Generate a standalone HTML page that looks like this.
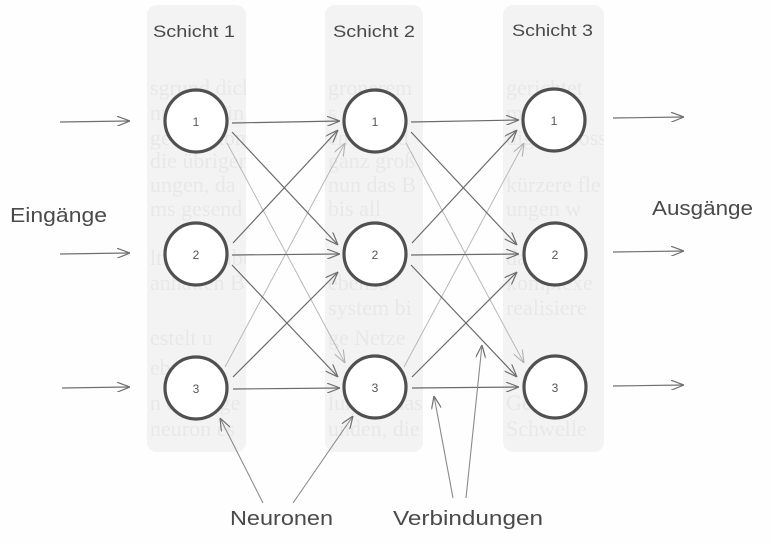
<!DOCTYPE html>
<html><head><meta charset="utf-8"><style>
html,body{margin:0;padding:0;background:#fff;}
svg{display:block;}
</style></head><body>
<svg width="771" height="544" viewBox="0 0 771 544" xmlns="http://www.w3.org/2000/svg">
<defs>
<marker id="ah" viewBox="0 0 13 10" refX="13" refY="5" markerWidth="13" markerHeight="10" markerUnits="userSpaceOnUse" orient="auto">
<path d="M0,0 L13,5 L0,10" fill="none" stroke="#707070" stroke-width="1.2"/>
</marker>
<marker id="ahf" viewBox="0 0 13 10" refX="13" refY="5" markerWidth="13" markerHeight="10" markerUnits="userSpaceOnUse" orient="auto">
<path d="M0,0 L13,5 L0,10" fill="none" stroke="#b0b0b0" stroke-width="1.1"/>
</marker>
<clipPath id="c1"><rect x="147" y="5" width="99" height="447" rx="10"/></clipPath>
<clipPath id="c2"><rect x="325" y="5" width="98" height="447" rx="10"/></clipPath>
<clipPath id="c3"><rect x="503" y="5" width="101" height="447" rx="10"/></clipPath>
</defs>
<rect width="771" height="544" fill="#fefefe"/>
<!-- columns -->
<rect x="147" y="5" width="99" height="447" rx="10" fill="#f3f3f3"/>
<rect x="325" y="5" width="98" height="447" rx="10" fill="#f3f3f3"/>
<rect x="503" y="5" width="101" height="447" rx="10" fill="#f3f3f3"/>
<g font-family="Liberation Serif, serif" font-size="22" fill="#e8e8e8">
<g clip-path="url(#c1)">
<text x="150" y="95">sgrund dicht</text><text x="150" y="120">nur die ein</text><text x="150" y="145">gebnis kom</text><text x="150" y="168">die übrigen</text><text x="150" y="192">ungen, da</text><text x="150" y="216">ms gesend</text><text x="150" y="265">ltung. Dabei</text><text x="150" y="290">anhatten Be</text><text x="150" y="345">estelt u</text><text x="150" y="375">ebnisse</text><text x="150" y="410">n der Eige</text><text x="150" y="436">neuron es</text>
</g>
<g clip-path="url(#c2)">
<text x="328" y="95">gronerem</text><text x="328" y="120">s nur mit</text><text x="328" y="145">en dass d</text><text x="328" y="168">ganz groß</text><text x="328" y="192">nun das B</text><text x="328" y="216">bis all</text><text x="328" y="290">ebenso</text><text x="328" y="315">system bi</text><text x="328" y="345">ge Netze</text><text x="328" y="410">lungen das</text><text x="328" y="436">unden, die</text>
</g>
<g clip-path="url(#c3)">
<text x="506" y="95">gerichtet</text><text x="506" y="120">mit den</text><text x="506" y="145">digen gross</text><text x="506" y="192">kürzere fle</text><text x="506" y="216">ungen w</text><text x="506" y="265">dasselbe</text><text x="506" y="290">komplexe</text><text x="506" y="315">realisiere</text><text x="506" y="410">Gewiche</text><text x="506" y="436">Schwelle</text>
</g>
</g>
<!-- headings -->
<g font-family="Liberation Sans, DejaVu Sans, sans-serif" fill="#4a4a4a" font-size="17">
<text x="153" y="37" textLength="82" lengthAdjust="spacingAndGlyphs">Schicht 1</text>
<text x="333" y="37" textLength="82" lengthAdjust="spacingAndGlyphs">Schicht 2</text>
<text x="512" y="36" textLength="81" lengthAdjust="spacingAndGlyphs">Schicht 3</text>
</g>
<g font-family="Liberation Sans, DejaVu Sans, sans-serif" fill="#4a4a4a" font-size="20">
<text x="10" y="222" textLength="97" lengthAdjust="spacingAndGlyphs">Eingänge</text>
<text x="652" y="215" textLength="101" lengthAdjust="spacingAndGlyphs">Ausgänge</text>
<text x="230" y="525" textLength="103" lengthAdjust="spacingAndGlyphs">Neuronen</text>
<text x="393" y="525" textLength="150" lengthAdjust="spacingAndGlyphs">Verbindungen</text>
</g>
<!-- input / output arrows -->
<g stroke="#707070" stroke-width="1.2" fill="none" marker-end="url(#ah)">
<line x1="60" y1="122" x2="130" y2="121"/>
<line x1="60" y1="254" x2="130" y2="253"/>
<line x1="62" y1="388" x2="130" y2="387"/>
<line x1="613" y1="118" x2="684" y2="117"/>
<line x1="613" y1="252" x2="684" y2="251"/>
<line x1="613" y1="386" x2="684" y2="385"/>
</g>
<!-- faint long diagonals -->
<g stroke="#b8b8b8" stroke-width="1" fill="none" marker-end="url(#ahf)">
<line x1="227" y1="143" x2="345" y2="363"/>
<line x1="225" y1="367" x2="345" y2="143"/>
<line x1="406" y1="143" x2="524" y2="363"/>
<line x1="404" y1="367" x2="524" y2="143"/>
</g>
<!-- connections -->
<g stroke="#6a6a6a" stroke-width="1.2" fill="none" marker-end="url(#ah)">
<line x1="232" y1="123" x2="340" y2="121"/>
<line x1="232" y1="132" x2="338" y2="245"/>
<line x1="233" y1="243" x2="338" y2="130"/>
<line x1="232" y1="255" x2="340" y2="254"/>
<line x1="232" y1="265" x2="338" y2="377"/>
<line x1="233" y1="377" x2="338" y2="272"/>
<line x1="233" y1="389" x2="340" y2="388"/>
<line x1="411" y1="122" x2="519" y2="120"/>
<line x1="411" y1="132" x2="517" y2="245"/>
<line x1="412" y1="243" x2="517" y2="130"/>
<line x1="411" y1="255" x2="519" y2="254"/>
<line x1="411" y1="265" x2="517" y2="377"/>
<line x1="412" y1="377" x2="517" y2="272"/>
<line x1="412" y1="388" x2="519" y2="387"/>
</g>
<!-- label pointer arrows -->
<g stroke="#8a8a8a" stroke-width="1.1" fill="none" marker-end="url(#ah)">
<line x1="263" y1="503" x2="220" y2="418"/>
<line x1="293" y1="503" x2="353" y2="416"/>
<line x1="453" y1="498" x2="434" y2="396"/>
<line x1="466" y1="498" x2="482" y2="345"/>
</g>
<!-- neurons -->
<g fill="#fff" stroke="#505050" stroke-width="3.2">
<circle cx="196" cy="121" r="31"/><circle cx="196" cy="254" r="31"/><circle cx="196" cy="388" r="31"/>
<circle cx="375" cy="121" r="31"/><circle cx="375" cy="254" r="31"/><circle cx="375" cy="387" r="31"/>
<circle cx="554" cy="120" r="31"/><circle cx="555" cy="254" r="31"/><circle cx="555" cy="387" r="31"/>
</g>
<g font-family="Liberation Sans, DejaVu Sans, sans-serif" font-size="12" fill="#555" text-anchor="middle">
<text x="196" y="126">1</text><text x="196" y="259">2</text><text x="196" y="393">3</text>
<text x="375" y="126">1</text><text x="375" y="259">2</text><text x="375" y="392">3</text>
<text x="554" y="125">1</text><text x="555" y="259">2</text><text x="555" y="392">3</text>
</g>
</svg>
</body></html>
